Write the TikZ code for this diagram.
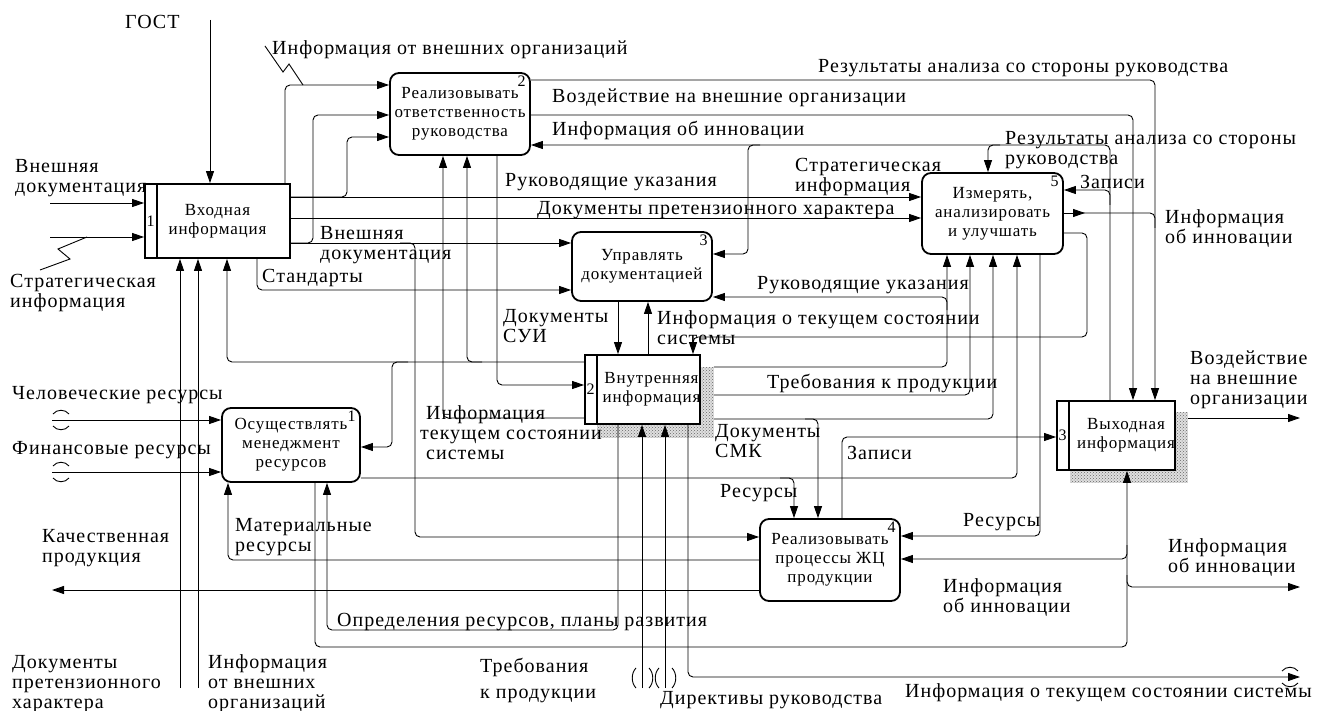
\documentclass[tikz,border=0pt]{standalone}
\usepackage{fontspec}
\setmainfont[LetterSpace=5]{Liberation Serif}
\usetikzlibrary{arrows.meta,patterns,backgrounds}

\begin{document}
\begin{tikzpicture}[
  x=1pt, y=-1pt,
  font=\fontsize{20}{20}\selectfont,
  func/.style={draw, line width=1.8pt, rounded corners=9pt, fill=white, align=center,
    font=\fontsize{17}{19}\selectfont},
  blk/.style={draw, line width=1.8pt, fill=white},
  btxt/.style={align=center, font=\fontsize{17}{19}\selectfont},
  num/.style={font=\fontsize{16}{16}\selectfont, inner sep=0pt},
  flow/.style={line width=0.9pt, rounded corners=5pt},
  arr/.style={flow, -{Triangle[length=12pt,width=8pt]}},
  lbl/.style={anchor=west, align=left, inner sep=0pt},
  shade/.style={fill=gray!25, postaction={pattern=crosshatch dots, pattern color=black!60}},
  tun/.style={line width=0.9pt}
]
\useasboundingbox (0,0) rectangle (1324,711);

% blocks
\node[blk, minimum width=145pt, minimum height=74pt] (b1) at (217.5,221) {};
\node[func, minimum width=140pt, minimum height=82pt] (a2) at (460,114) {Реализовывать\\ответственность\\руководства};
\node[func, minimum width=140pt, minimum height=69pt] (a3) at (642,266.5) {Управлять\\документацией};
\node[func, minimum width=141pt, minimum height=81pt] (a5) at (992.5,213.5) {Измерять,\\анализировать\\и улучшать};
\node[blk, minimum width=115pt, minimum height=69pt] (b2) at (642.5,389.5) {};
\node[func, minimum width=138pt, minimum height=74pt] (a1) at (291,445) {Осуществлять\\менеджмент\\ресурсов};
\node[func, minimum width=140pt, minimum height=82pt] (a4) at (830,560) {Реализовывать\\процессы ЖЦ\\продукции};
\node[blk, minimum width=118pt, minimum height=69pt] (b3) at (1116,435.5) {};

\node[btxt] (t1) at (b1.center) {Входная\\информация};
\node[btxt] (t2) at ([xshift=9pt]b2.center) {Внутренняя\\информация};
\node[btxt] (t3) at ([xshift=10pt]b3.center) {Выходная\\информация};

\foreach \b/\n in {b1/1, b2/2, b3/3} {
  \draw[line width=1.8pt] ([xshift=13pt]\b.north west) -- ([xshift=13pt]\b.south west);
  \node[num] at ([xshift=6.5pt]\b.west) {\n};
}
\foreach \a/\n in {a1/1, a2/2, a3/3, a4/4, a5/5}
  \node[num, anchor=north east] at ([xshift=-5pt,yshift=-4pt]\a.north east) {\n};

\begin{scope}[on background layer]
  \fill[shade] ([yshift=-13pt]b2.north east) rectangle ([xshift=13pt,yshift=-13pt]b2.south east);
  \fill[shade] ([xshift=13pt]b2.south west) rectangle ([xshift=13pt,yshift=-13pt]b2.south east);
  \fill[shade] ([yshift=-12pt]b3.north east) rectangle ([xshift=12pt,yshift=-12pt]b3.south east);
  \fill[shade] ([xshift=14pt]b3.south west) rectangle ([xshift=12pt,yshift=-12pt]b3.south east);
\end{scope}

\coordinate (b2r) at ([xshift=13pt]b2.east);
\coordinate (b3r) at ([xshift=12pt]b3.east);

% free ends
\coordinate (gost) at (210,20);
\coordinate (extdoc) at (50,203);
\coordinate (stratin) at (50,237);
\coordinate (docin) at (180,688);
\coordinate (orgin) at (198,688);
\coordinate (humin) at (52,420);
\coordinate (finin) at (52,472);
\coordinate (reqin) at (642,688);
\coordinate (dirin) at (665,688);
\coordinate (quality) at (52,590);
\coordinate (innout) at (1300,587);
\coordinate (stateout) at (1300,677);
\coordinate (effout) at (1300,418);

% inputs of block 1
\draw[arr] (gost) -- (gost |- b1.north);
\draw[arr] (extdoc) -- (extdoc -| b1.west);
\draw[arr] (stratin) -- (stratin -| b1.west);
\draw[tun] (87,237) -- (58,249) -- (70,259) -- (40,270);
\draw[arr] (docin) -- (docin |- b1.south);
\draw[arr] (orgin) -- (orgin |- b1.south);

% outputs of block 1
\draw[arr] (285,0 |- b1.north) -- (285,85) -- (a2.west |- 0,85);
\draw[tun] (265,46) -- (283,72) -- (289,64) -- (303,85);
\draw[arr] (b1.east |- 0,243) -- (313,243) -- (313,115) -- (a2.west |- 0,115);
\draw[arr] (b1.east |- 0,243) -- (a3.west |- 0,243);
\draw[arr] (400,243) -- (415,243) -- (415,537) -- (a4.west |- 0,537);
\draw[arr] (b1.east |- 0,197) -- (347,197) -- (347,137) -- (a2.west |- 0,137);
\draw[arr] (b1.east |- 0,197) -- (a5.west |- 0,197);
\draw[arr] (b1.east |- 0,218) -- (a5.west |- 0,218);
\draw[arr] (257,0 |- b1.south) -- (257,290) -- (a3.west |- 0,290);

% block 2 left and top
\draw[arr] (b2.west |- 0,362) -- (227,362) -- (227,0 |- b1.south);
\draw[arr] (408,362) -- (392,362) -- (392,447) -- (a1.east |- 0,447);
\draw[arr] (482,362) -- (467,362) -- (467,0 |- a2.south);
\draw[arr] (b2.west |- 0,418) -- (443,418) -- (443,0 |- a2.south);
\draw[arr] (497,0 |- a2.south) -- (497,385) -- (b2.west |- 0,385);
\draw[arr] (618,0 |- a3.south) -- (618,0 |- b2.north);
\draw[arr] (648,0 |- b2.north) -- (648,0 |- a3.south);

% outputs of function 2
\draw[arr] (a2.east |- 0,80) -- (1155,80) -- (1155,0 |- b3.north);
\draw[arr] (a2.east |- 0,115) -- (1133,115) -- (1133,0 |- b3.north);

% block 3 upward
\draw[arr] (1110,0 |- b3.north) -- (1110,190) -- (a5.east |- 0,190);
\draw[arr] (1110,205) -- (1110,145) -- (a2.east |- 0,145);
\draw[arr] (1000,145) -- (988,145) -- (988,0 |- a5.north);
\draw[arr] (760,145) -- (748,145) -- (748,254) -- (a3.east |- 0,254);

% outputs of function 5
\draw[arr] (a5.east |- 0,213) -- (1085,213);
\draw[flow] (1080,213) -- (1155,213) -- (1155,228);
\draw[arr] (a5.east |- 0,233) -- (1087,233) -- (1087,337) -- (693,337) -- (693,0 |- b2.north);
\draw[arr] (1040,0 |- a5.south) -- (1040,536) -- (a4.east |- 0,536);

% inputs of function 5 from below
\draw[arr] (b2r |- 0,367) -- (947,367) -- (947,0 |- a5.south);
\draw[arr] (947,310) -- (947,297) -- (a3.east |- 0,297);
\draw[arr] (b2r |- 0,395) -- (970,395) -- (970,0 |- a5.south);
\draw[arr] (b2r |- 0,419) -- (993,419) -- (993,0 |- a5.south);
\draw[arr] (805,419) -- (818,419) -- (818,0 |- a4.north);
\draw[arr] (a1.east |- 0,478) -- (1017,478) -- (1017,0 |- a5.south);
\draw[arr] (780,478) -- (794,478) -- (794,0 |- a4.north);

% outputs of function 4
\draw[arr] (842,0 |- a4.north) -- (842,437) -- (b3.west |- 0,437);
\draw[arr] (a4.west |- 0,590) -- (quality);
\draw[arr] (a4.west |- 0,560) -- (228,560) -- (228,0 |- a1.south);

% function 1 bottom
\draw[arr] (315,0 |- a1.south) -- (315,647) -- (1127,647) -- (1127,0 |- b3.south);
\draw[arr] (1127,545) -- (1127,559) -- (a4.east |- 0,559);
\draw[arr] (1127,575) -- (1127,587) -- (innout);

% block 2 bottom
\draw[arr] (618,0 |- b2.south) -- (618,630) -- (327,630) -- (327,0 |- a1.south);
\draw[arr] (reqin) -- (reqin |- b2.south);
\draw[arr] (dirin) -- (dirin |- b2.south);
\draw[arr] (688,0 |- b2.south) -- (688,677) -- (stateout);

% inputs of function 1, output of block 3
\draw[arr] (humin) -- (humin -| a1.west);
\draw[arr] (finin) -- (finin -| a1.west);
\draw[arr] (b3r |- 0,418) -- (effout);

% tunnels
\draw[tun] (53,414) .. controls (57,409) and (65,409) .. (69,414);
\draw[tun] (53,426) .. controls (57,431) and (65,431) .. (69,426);
\draw[tun] (53,466) .. controls (57,461) and (65,461) .. (69,466);
\draw[tun] (53,478) .. controls (57,483) and (65,483) .. (69,478);
\draw[tun] (1282,671) .. controls (1286,666) and (1294,666) .. (1298,671);
\draw[tun] (1282,683) .. controls (1286,688) and (1294,688) .. (1298,683);
\foreach \x in {636,659} {
  \draw[tun] (\x,668) .. controls (\x-5,673) and (\x-5,683) .. (\x,688);
  \draw[tun] (\x+13,668) .. controls (\x+18,673) and (\x+18,683) .. (\x+13,688);
}

% labels
\node[lbl] (tgost) at (125,22) {ГОСТ};
\node[lbl] (tinforg) at (272,50) {Информация от внешних организаций};
\node[lbl] (tres1) at (818,68) {Результаты анализа со стороны руководства};
\node[lbl] (timpact1) at (552,98) {Воздействие на внешние организации};
\node[lbl] (tinno1) at (552,130) {Информация об инновации};
\node[lbl] (tres2) at (1005,150) {Результаты анализа со стороны\\руководства};
\node[lbl] (tstrat1) at (795,177) {Стратегическая\\информация};
\node[lbl] (trec1) at (1080,182) {Записи};
\node[lbl] (tguide1) at (505,182) {Руководящие указания};
\node[lbl] (tclaim1) at (537,210) {Документы претензионного характера};
\node[lbl] (tinno2) at (1165,228) {Информация\\об инновации};
\node[lbl] (textdoc1) at (15,178) {Внешняя\\документация};
\node[lbl] (tstrat2) at (10,293) {Стратегическая\\информация};
\node[lbl] (textdoc2) at (320,245) {Внешняя\\документация};
\node[lbl] (tstd) at (262,278) {Стандарты};
\node[lbl] (tguide2) at (757,285) {Руководящие указания};
\node[lbl] (tsui) at (503,326) {Документы\\СУИ};
\node[lbl] (tstate1) at (657,328) {Информация о текущем состоянии\\системы};
\node[lbl] (treq1) at (767,383) {Требования к продукции};
\node[lbl] (thum) at (12,395) {Человеческие ресурсы};
\node[lbl] (tfin) at (12,450) {Финансовые ресурсы};
\node[lbl] (tstate2) at (420,433) {\hspace{6pt}Информация\\текущем состоянии\\\hspace{6pt}системы};
\node[lbl] (tsmk) at (715,441) {Документы\\СМК};
\node[lbl] (trec2) at (847,453) {Записи};
\node[lbl] (tres3) at (720,493) {Ресурсы};
\node[lbl] (tres4) at (963,522) {Ресурсы};
\node[lbl] (tqual) at (42,548) {Качественная\\продукция};
\node[lbl] (tmat) at (235,537) {Материальные\\ресурсы};
\node[lbl] (tinno3) at (1168,557) {Информация\\об инновации};
\node[lbl] (tinno4) at (943,597) {Информация\\об инновации};
\node[lbl] (tplan) at (337,622) {Определения ресурсов, планы развития};
\node[lbl] (tclaim2) at (12,684) {Документы\\претензионного\\характера};
\node[lbl] (torg2) at (208,684) {Информация\\от внешних\\организаций};
\node[lbl] (treq2) at (480,680) {Требования\\[6pt]к продукции};
\node[lbl] (tdir) at (660,700) {Директивы руководства};
\node[lbl] (tstate3) at (905,693) {Информация о текущем состоянии системы};
\node[lbl] (timpact2) at (1190,380) {Воздействие\\на внешние\\организации};
\end{tikzpicture}
\end{document}
